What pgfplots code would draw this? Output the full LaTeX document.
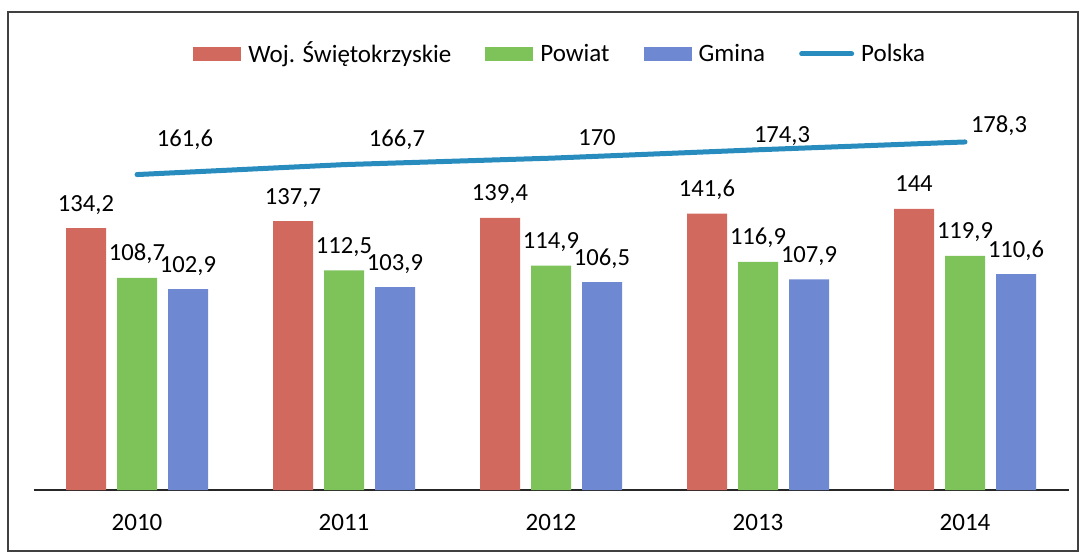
\documentclass[border=0pt]{standalone}
\usepackage{fontspec}
\setmainfont{Carlito}
\usepackage{pgfplots}
\usepackage{pgfplotstable}
\pgfplotsset{compat=1.18}
\definecolor{wojred}{HTML}{D2695F}
\definecolor{powgreen}{HTML}{7DC35A}
\definecolor{gmblue}{HTML}{6F88D2}
\definecolor{plline}{HTML}{288CBE}

\pgfplotstableread{
x woj powiat gmina
0 134.2 108.7 102.9
1 137.7 112.5 103.9
2 139.4 114.9 106.5
3 141.6 116.9 107.9
4 144   119.9 110.6
}\bars
% Polska plus label offsets (pt)
\pgfplotstableread{
x polska lx ly
0 161.6 24   17.5
1 166.7 26.5 12.5
2 170   23   10.5
3 174.3 12   7
4 178.3 17   8
}\poltab

\newcommand\lab{\fontsize{12.3}{14}\selectfont}
\newcommand\leg{\fontsize{12.5}{14}\selectfont}

\begin{document}
\begin{tikzpicture}
\path[use as bounding box] (0,0) rectangle (540pt,277pt);
\draw[black!75,line width=0.6pt] (4pt,1.5pt) rectangle (539pt,271pt);
\begin{axis}[
  at={(16.75pt,32pt)}, anchor=south west,
  scale only axis, width=517.5pt, height=195.2pt,
  xmin=-0.5, xmax=4.5, ymin=0, ymax=200,
  ybar=5.5pt, bar width=20pt,
  axis y line=none, axis x line*=bottom,
  axis line style={black!85,line width=0.7pt},
  xtick=data, xticklabels={2010,2011,2012,2013,2014},
  major tick length=0pt,
  xticklabel style={font=\leg,anchor=base,yshift=-20pt},
  clip=false,
  /pgf/number format/.cd, use comma, fixed, precision=1, assume math mode=true,
  /pgfplots/.cd,
  nodes near coords,
  nodes near coords style={font=\lab,anchor=base,yshift=8.5pt,black},
  legend columns=4,
  legend style={at={(0.51,1.117)},anchor=center,draw=none,fill=none,font=\leg,
    /tikz/every even column/.append style={column sep=15pt},
    /tikz/every odd column/.append style={column sep=1.5pt}},
  legend image code/.code={\fill[#1] (0pt,-3.5pt) rectangle (24pt,3.5pt);},
]
\addplot[fill=wojred,draw=none] table[x=x,y=woj] {\bars};
\addplot[fill=powgreen,draw=none] table[x=x,y=powiat] {\bars};
\addplot[fill=gmblue,draw=none] table[x=x,y=gmina] {\bars};
\addplot[sharp plot,draw=plline,line width=2.5pt,line cap=round,mark=none,
  legend image code/.code={\draw[plline,line width=2.5pt,line cap=round] (0pt,0pt) -- (25pt,0pt);},
  visualization depends on={\thisrow{lx}\as\lx},
  visualization depends on={\thisrow{ly}\as\ly},
  nodes near coords style={anchor=center,xshift=\lx pt,yshift=\ly pt-8.5pt}]
  table[x=x,y=polska] {\poltab};
\legend{Woj. Świętokrzyskie,Powiat,Gmina,Polska}
\end{axis}
\end{tikzpicture}
\end{document}
